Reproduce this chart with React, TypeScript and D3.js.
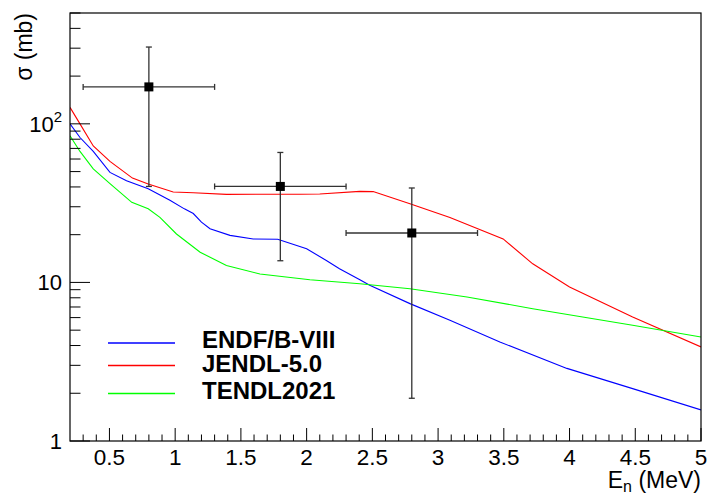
import * as d3 from "d3";

const W = 707;
const H = 493;
const MARGIN = { top: 13, right: 6, bottom: 52, left: 70 };

// ENDF/B-VIII (blue)
const endfE = [0.2, 0.276, 0.377, 0.504, 0.63, 0.795, 0.96, 1.07, 1.138, 1.2, 1.265, 1.417, 1.594, 1.78, 2.0, 2.15, 2.25, 2.405, 2.48, 2.786, 3.09, 3.47, 3.98, 4.48, 5.0];
const endfXS = [100, 82, 67, 49.4, 43.8, 39, 33, 29.1, 27.2, 24, 21.8, 19.8, 18.8, 18.7, 16.3, 13.75, 12.2, 10.4, 9.6, 7.35, 5.77, 4.21, 2.87, 2.14, 1.57];

// JENDL-5.0 (red)
const jendlE = [0.2, 0.276, 0.377, 0.504, 0.675, 0.795, 0.985, 1.138, 1.39, 1.95, 2.1, 2.405, 2.506, 2.786, 3.09, 3.495, 3.72, 4.0, 4.48, 5.0];
const jendlXS = [127, 100, 72.5, 58, 45.5, 41.8, 37.2, 36.8, 35.9, 36, 36.1, 37.5, 37.4, 31.3, 25.7, 18.8, 13.1, 9.35, 6.05, 3.92];

// TENDL2021 (green)
const tendlE = [0.2, 0.276, 0.377, 0.504, 0.67, 0.795, 0.884, 1.01, 1.19, 1.39, 1.645, 2.025, 2.405, 2.786, 3.22, 3.72, 4.1, 4.48, 5.0];
const tendlXS = [84, 67, 52, 42, 32, 29.1, 25.7, 20.2, 15.5, 12.8, 11.3, 10.4, 9.8, 9.13, 8.09, 6.83, 6.05, 5.37, 4.53];

// measured points
const expE = [0.8, 1.8, 2.8];
const expDE = [0.5, 0.5, 0.5];
const expXS = [171, 40.3, 20.5];
const expHi = [305, 66, 39.4];
const expLo = [40.3, 13.7, 1.86];

const xTicks = [0.5, 1, 1.5, 2, 2.5, 3, 3.5, 4, 4.5, 5];
const xTickLabels = ["0.5", "1", "1.5", "2", "2.5", "3", "3.5", "4", "4.5", "5"];

const legendNames = ["ENDF/B-VIII", "JENDL-5.0", "TENDL2021"];
const COLORS = ["#0000ff", "#ff0000", "#00ff00"];

const FONT = "'Liberation Sans', Arial, Helvetica, sans-serif";

export default function App() {
  const x0 = MARGIN.left;
  const x1 = W - MARGIN.right;
  const y0 = H - MARGIN.bottom;
  const y1 = MARGIN.top;

  const xScale = d3.scaleLinear().domain([0.2, 5]).range([x0, x1]);
  const yScale = d3.scaleLog().domain([1, 500]).range([y0, y1]);

  const line = d3
    .line<[number, number]>()
    .x((d) => xScale(d[0]))
    .y((d) => yScale(d[1]));

  const series = [
    d3.zip(endfE, endfXS) as [number, number][],
    d3.zip(jendlE, jendlXS) as [number, number][],
    d3.zip(tendlE, tendlXS) as [number, number][],
  ];

  // x minor ticks every 0.1
  const xMinor = d3.range(3, 51).map((i) => i / 10).filter((v) => Math.abs(v * 2 - Math.round(v * 2)) > 1e-6);
  const yMajor = [1, 10, 100];
  const yMinor: number[] = [];
  for (const dec of [1, 10, 100]) {
    for (let k = 2; k <= 9; k++) {
      if (dec * k <= 500) yMinor.push(dec * k);
    }
  }

  const ebColor = "#333333";

  return (
    <svg
      width={W}
      height={H}
      style={{ position: "absolute", left: 0, top: 0, background: "#fff" }}
      fontFamily={FONT}
    >
      <defs>
        <clipPath id="frame">
          <rect x={x0} y={y1} width={x1 - x0} height={y0 - y1} />
        </clipPath>
      </defs>

      <g clipPath="url(#frame)">
        {series.map((s, i) => (
          <path key={i} d={line(s) || ""} fill="none" stroke={COLORS[i]} strokeWidth={1.1} />
        ))}
      </g>

      {/* error bars and markers */}
      {expE.map((e, i) => {
        const cx = xScale(e);
        const cy = yScale(expXS[i]);
        const xl = xScale(e - expDE[i]);
        const xr = xScale(e + expDE[i]);
        const yt = yScale(expHi[i]);
        const yb = yScale(expLo[i]);
        return (
          <g key={i} stroke={ebColor} strokeWidth={1.3}>
            <line x1={xl} x2={xr} y1={cy} y2={cy} />
            <line x1={xl} x2={xl} y1={cy - 3} y2={cy + 3} />
            <line x1={xr} x2={xr} y1={cy - 3} y2={cy + 3} />
            <line x1={cx} x2={cx} y1={yt} y2={yb} />
            <line x1={cx - 3} x2={cx + 3} y1={yt} y2={yt} />
            <line x1={cx - 3} x2={cx + 3} y1={yb} y2={yb} />
            <rect x={cx - 4.5} y={cy - 4.5} width={9} height={9} fill="#000" stroke="none" />
          </g>
        );
      })}

      {/* frame */}
      <rect x={x0} y={y1} width={x1 - x0} height={y0 - y1} fill="none" stroke="#000" strokeWidth={1.2} />

      {/* x ticks */}
      {xTicks.map((t, i) => (
        <g key={"xt" + i}>
          <line x1={xScale(t)} x2={xScale(t)} y1={y0} y2={y0 - 13} stroke="#000" strokeWidth={1} />
          <text x={xScale(t)} y={y0 + 24} textAnchor="middle" fontSize={22.5}>
            {xTickLabels[i]}
          </text>
        </g>
      ))}
      {xMinor.map((t, i) => (
        <line key={"xm" + i} x1={xScale(t)} x2={xScale(t)} y1={y0} y2={y0 - 6.5} stroke="#000" strokeWidth={1} />
      ))}

      {/* y ticks */}
      {yMajor.map((t, i) => (
        <line key={"ym" + i} x1={x0} x2={x0 + 20} y1={yScale(t)} y2={yScale(t)} stroke="#000" strokeWidth={1} />
      ))}
      {yMinor.map((t, i) => (
        <line key={"yn" + i} x1={x0} x2={x0 + 10.5} y1={yScale(t)} y2={yScale(t)} stroke="#000" strokeWidth={1} />
      ))}
      <text x={62} y={yScale(1) + 8} textAnchor="end" fontSize={22}>1</text>
      <text x={62} y={yScale(10) + 8} textAnchor="end" fontSize={22}>10</text>
      <text x={62} y={yScale(100) + 8} textAnchor="end" fontSize={22}>
        10<tspan fontSize={15} dy={-10}>2</tspan>
      </text>

      {/* axis titles */}
      <text x={x1} y={488} textAnchor="end" fontSize={23}>
        E<tspan fontSize={16} dy={4}>n</tspan>
        <tspan dy={-4}> (MeV)</tspan>
      </text>
      <text transform={`translate(32, ${y1}) rotate(-90)`} textAnchor="end" fontSize={23}>
        σ (mb)
      </text>

      {/* legend */}
      {legendNames.map((n, i) => {
        const ly = [343, 365.5, 393.5][i];
        const by = [347.5, 371.7, 399][i];
        return (
          <g key={"lg" + i}>
            <line x1={108} x2={175} y1={ly} y2={ly} stroke={COLORS[i]} strokeWidth={1.3} />
            <text x={202} y={by} fontSize={24} fontWeight="bold">
              {n}
            </text>
          </g>
        );
      })}
    </svg>
  );
}
